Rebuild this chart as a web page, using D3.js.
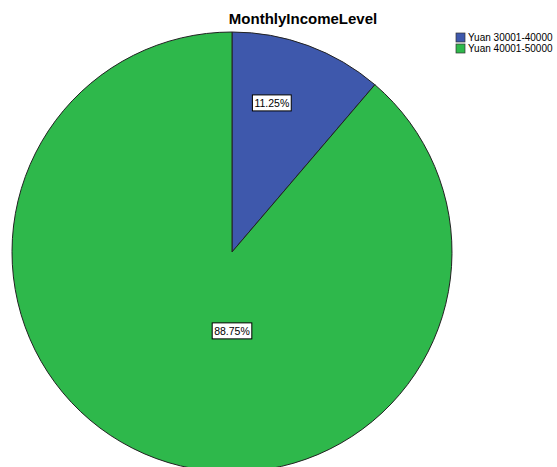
<!DOCTYPE html>
<html><head><meta charset="utf-8">
<script src="https://cdn.jsdelivr.net/npm/d3@7"></script>
<style>body{margin:0;background:#fff}svg{display:block}</style>
</head><body>
<script>
const title = "MonthlyIncomeLevel";
const categories = ["Yuan 30001-40000", "Yuan 40001-50000"];
const percents = [11.25, 88.75];
const colors = ["#3e58ac", "#2eb84b"];

const W = 557, H = 467;
const cx = 232, cy = 252, R = 220;
const font = "Arial, 'Liberation Sans', sans-serif";

const svg = d3.select("body").append("svg").attr("width", W).attr("height", H);

svg.append("text").attr("x", 303).attr("y", 24).attr("text-anchor", "middle")
  .attr("font-family", font).attr("font-weight", "bold").attr("font-size", 15)
  .attr("fill", "#000").text(title);

const pie = d3.pie().sort(null).value(d => d)(percents);
const arc = d3.arc().innerRadius(0).outerRadius(R);
const g = svg.append("g").attr("transform", `translate(${cx},${cy})`);

g.selectAll("path").data(pie).join("path")
  .attr("d", arc).attr("fill", (d, i) => colors[i])
  .attr("stroke", "#222").attr("stroke-width", 1);

const lbl = g.selectAll("g.lbl").data(pie).join("g").attr("class", "lbl")
  .attr("transform", d => {
    const span = d.endAngle - d.startAngle;
    let a, r;
    if (span > Math.PI) { a = Math.PI; r = R * 0.36; }
    else { a = d.startAngle + span * 0.37; r = R * 0.70; }
    return `translate(${r * Math.sin(a)},${-r * Math.cos(a)})`;
  });
lbl.each(function(d) {
  const s = d3.select(this);
  const t = s.append("text").attr("text-anchor", "middle").attr("dy", "0.35em")
    .attr("font-family", font).attr("font-size", 10.5).attr("fill", "#000")
    .text(d.data.toFixed(2) + "%");
  const b = t.node().getBBox();
  s.insert("rect", "text").attr("x", b.x - 2).attr("y", b.y - 2)
    .attr("width", b.width + 4).attr("height", b.height + 4)
    .attr("fill", "#fff").attr("stroke", "#000").attr("stroke-width", 1);
});

const leg = svg.append("g").attr("transform", "translate(456,33)");
const li = leg.selectAll("g").data(categories).join("g")
  .attr("transform", (d, i) => `translate(0,${i * 11})`);
li.append("rect").attr("width", 9).attr("height", 9)
  .attr("fill", (d, i) => colors[i]).attr("stroke", "#333").attr("stroke-width", 0.7);
li.append("text").attr("x", 12).attr("y", 8).attr("font-family", font)
  .attr("font-size", 10).attr("fill", "#000").text(d => d);
</script>
</body></html>
